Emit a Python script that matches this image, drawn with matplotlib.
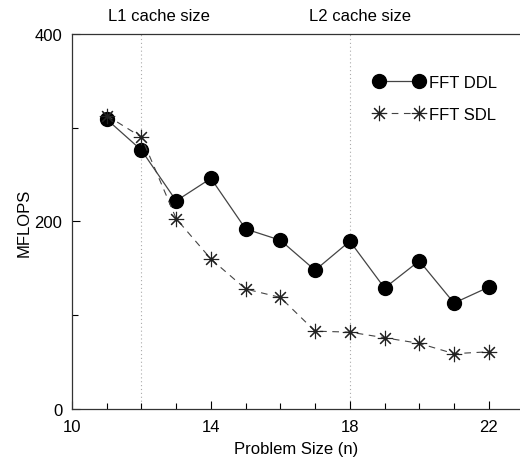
import matplotlib.pyplot as plt
from matplotlib.ticker import MultipleLocator

plt.rcParams['font.family'] = ['Liberation Sans', 'DejaVu Sans']

# Problem size n and measured MFLOPS
sizes = [11, 12, 13, 14, 15, 16, 17, 18, 19, 20, 21, 22]
ddl = [309, 276, 222, 246, 192, 180, 148, 179, 129, 158, 113, 130]
sdl = [313, 290, 203, 160, 128, 119, 83, 82, 76, 70, 59, 61]

x_ticks = [10, 14, 18, 22]
y_ticks = [0, 200, 400]

cache_lines = [12, 18]
cache_labels = ['L1 cache size', 'L2 cache size']
cache_label_x = [12.5, 18.3]

fig = plt.figure(figsize=(5.2, 4.64), dpi=100)
ax = fig.add_axes([0.1385, 0.1164, 0.8615, 0.8082])

for x in cache_lines:
    ax.axvline(x, color='#aaaaaa', linestyle=(0, (1, 2.5)), linewidth=0.8, zorder=1)
for x, lab in zip(cache_label_x, cache_labels):
    ax.text(x, 1.048, lab, transform=ax.get_xaxis_transform(), ha='center',
            va='center', fontsize=12)

ax.plot(sizes, ddl, color='#444444', linewidth=0.9, marker='o', markersize=10,
        markerfacecolor='black', markeredgecolor='black', label='FFT DDL', zorder=3)
ax.plot(sizes, sdl, color='#444444', linewidth=0.8, linestyle=(0, (6, 5)),
        marker=(8, 2, 0), markersize=11, markeredgewidth=0.8,
        markeredgecolor='#222222', label='FFT SDL', zorder=3)

ax.set_xlim(10, 22.9)
ax.set_ylim(0, 400)
ax.set_xticks(x_ticks)
ax.set_yticks(y_ticks)
ax.xaxis.set_minor_locator(MultipleLocator(1))
ax.yaxis.set_minor_locator(MultipleLocator(100))
ax.tick_params(which='both', direction='in', labelsize=12, width=0.8)
ax.tick_params(which='major', length=6, pad=7)
ax.tick_params(which='minor', length=4)
ax.spines['right'].set_visible(False)
for s in ['left', 'bottom', 'top']:
    ax.spines[s].set_linewidth(0.9)
    ax.spines[s].set_color('#333333')

ax.set_xlabel('Problem Size (n)', fontsize=12, labelpad=5)
ax.set_ylabel('MFLOPS', fontsize=12, labelpad=2)

ax.legend(loc='upper left', bbox_to_anchor=(0.64, 0.93), frameon=False, fontsize=12,
          numpoints=2, handlelength=3.0, handletextpad=0.3, labelspacing=1.0)

fig.savefig('out.png', dpi=100)
